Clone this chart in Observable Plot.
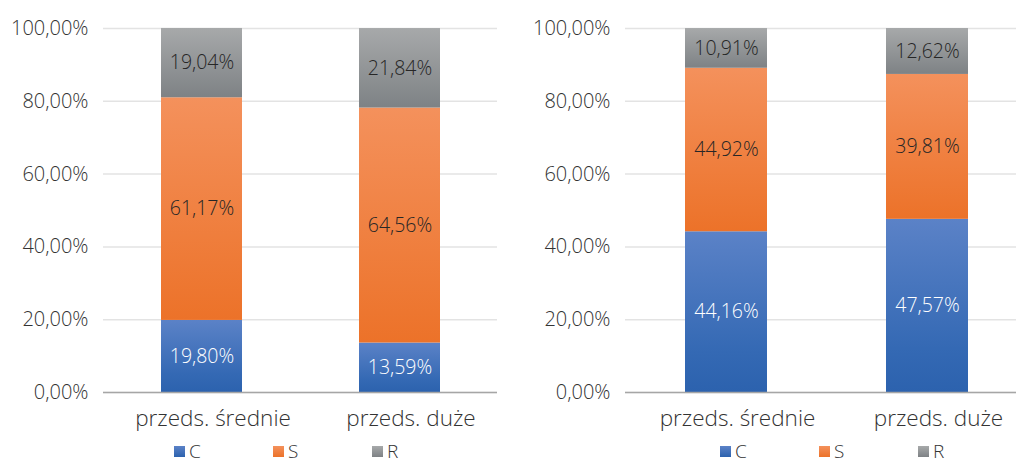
<!DOCTYPE html>
<html>
<head>
<meta charset="utf-8">
<script src="https://cdn.jsdelivr.net/npm/d3@7"></script>
<script src="https://cdn.jsdelivr.net/npm/@observablehq/plot@0.6"></script>
<style>
  html, body { margin: 0; padding: 0; background: #fff; }
  #root { position: relative; width: 1016px; height: 462px; overflow: hidden; font-family: "Open Sans", sans-serif; font-weight: 300; }
  .panel { position: absolute; top: 0; width: 508px; height: 462px; }
  .legend { position: absolute; top: 441px; display: flex; font-size: 19px; line-height: 19px; color: #333; }
  .legend .item { display: flex; align-items: center; width: 99px; height: 20px; }
  .legend .sw { width: 11px; height: 11px; margin-right: 4px; }
</style>
</head>
<body>
<div id="root"></div>
<script>
// Categories, series and tick values
const categories = ["przeds. średnie", "przeds. duże"];
const seriesNames = ["C", "S", "R"];
const yTicks = [0, 20, 40, 60, 80, 100];

// Left panel shares (%)
const leftC = [19.80, 13.59];
const leftS = [61.17, 64.56];
const leftR = [19.04, 21.84];

// Right panel shares (%)
const rightC = [44.16, 47.57];
const rightS = [44.92, 39.81];
const rightR = [10.91, 12.62];

// Vertical gradient stops for each series
const gradients = {
  C: [["0%", "#5b82c7"], ["75%", "#3469b4"], ["100%", "#2c62ae"]],
  S: [["0%", "#f4915c"], ["100%", "#ec7229"]],
  R: [["0%", "#a7a9aa"], ["100%", "#7e8285"]]
};
const labelColors = { C: "#ffffff", S: "#262626", R: "#262626" };

const fmt = v => v.toFixed(2).replace(".", ",") + "%";

function rowsFrom(C, S, R) {
  const rows = [];
  categories.forEach((cat, i) => {
    rows.push({ category: cat, series: "C", value: C[i] });
    rows.push({ category: cat, series: "S", value: S[i] });
    rows.push({ category: cat, series: "R", value: R[i] });
  });
  return rows;
}

function panel(id, rows, marginLeft, marginRight, xRange, legendLeft, offsetX) {
  const width = 508, height = 432;
  const urls = seriesNames.map(s => `url(#${id}-${s})`);
  const chart = Plot.plot({
    width, height,
    marginTop: 28, marginBottom: 40, marginLeft, marginRight,
    style: { fontFamily: "'Open Sans', sans-serif", fontWeight: 300, fontSize: "20px", color: "#333333", background: "transparent" },
    x: { domain: categories, range: xRange, paddingInner: 0.59, paddingOuter: 0.295, label: null, axis: null },
    y: { domain: [0, 100], ticks: yTicks, tickFormat: fmt, tickSize: 0, tickPadding: 15, label: null },
    color: { domain: seriesNames, range: urls },
    marks: [
      Plot.gridY(yTicks, { stroke: "#e3e3e3", strokeOpacity: 1, strokeWidth: 1.5 }),
      Plot.barY(rows, Plot.stackY({ x: "category", y: "value", z: "series", fill: "series", order: seriesNames })),
      Plot.ruleY([0], { stroke: "#a6a6a6", strokeWidth: 1.5 }),
      Plot.axisX({ tickSize: 0, tickPadding: 18, fontSize: 22.5, dx: 11, label: null }),
      Plot.text(rows, Plot.stackY({
        x: "category", y: "value", z: "series", order: seriesNames,
        text: d => fmt(d.value),
        fill: d => labelColors[d.series],
        fontSize: 19.5
      }))
    ]
  });
  // gradient definitions used by the bar fills
  const defs = d3.select(chart).insert("defs", ":first-child");
  seriesNames.forEach(s => {
    const g = defs.append("linearGradient").attr("id", `${id}-${s}`)
      .attr("x1", 0).attr("y1", 0).attr("x2", 0).attr("y2", 1);
    gradients[s].forEach(([o, c]) => g.append("stop").attr("offset", o).attr("stop-color", c));
  });

  const wrap = document.createElement("div");
  wrap.className = "panel";
  wrap.style.left = offsetX + "px";
  wrap.appendChild(chart);

  const legend = document.createElement("div");
  legend.className = "legend";
  legend.style.left = legendLeft + "px";
  seriesNames.forEach(s => {
    const item = document.createElement("div");
    item.className = "item";
    const sw = document.createElement("div");
    sw.className = "sw";
    sw.style.background = `linear-gradient(${gradients[s][0][1]}, ${gradients[s][gradients[s].length - 1][1]})`;
    const t = document.createElement("span");
    t.textContent = s;
    item.appendChild(sw);
    item.appendChild(t);
    legend.appendChild(item);
  });
  wrap.appendChild(legend);
  document.getElementById("root").appendChild(wrap);
}

panel("left", rowsFrom(leftC, leftS, leftR), 103, 11, [102.5, 498.5], 174, 0);
panel("right", rowsFrom(rightC, rightS, rightR), 117, 0, [117.5, 519.5], 212, 508);
</script>
</body>
</html>
